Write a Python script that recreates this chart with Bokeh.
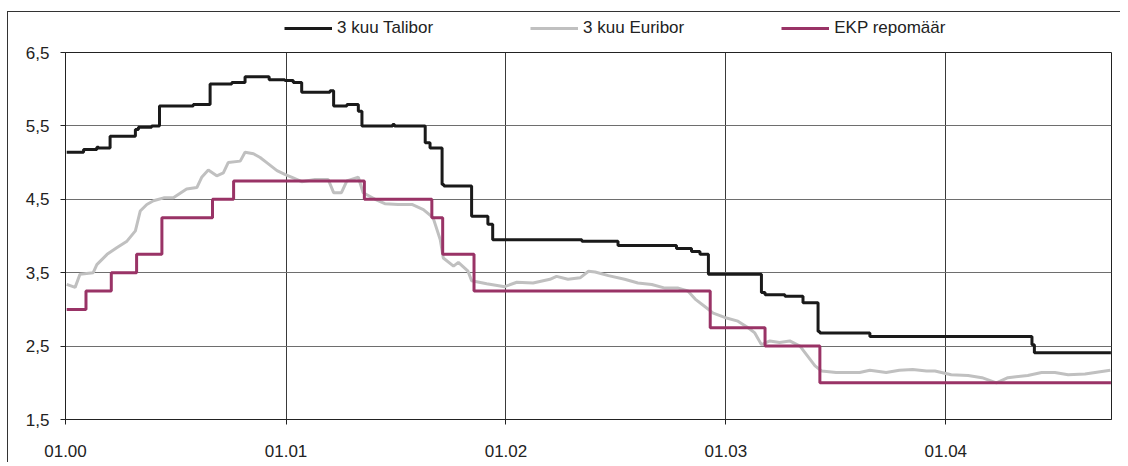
import pandas as pd
from bokeh.plotting import figure
from bokeh.layouts import column
from bokeh.models import Range1d, FixedTicker, Legend, LegendItem
from bokeh.embed import file_html
from bokeh.resources import INLINE

# ---------------- data ----------------
series_names = ["3 kuu Talibor", "3 kuu Euribor", "EKP repomäär"]
series_colors = ["#1a1a1a", "#c0c0c0", "#993366"]

talibor_dates = ["2000-01-03", "2000-01-31", "2000-02-22", "2000-02-25", "2000-03-15", "2000-04-26",
                 "2000-05-01", "2000-05-23", "2000-06-05", "2000-07-31", "2000-08-28", "2000-10-03",
                 "2000-10-25", "2000-12-04", "2000-12-30", "2001-01-13", "2001-01-27", "2001-03-15",
                 "2001-03-21", "2001-04-12", "2001-05-01", "2001-05-07", "2001-06-27", "2001-06-30",
                 "2001-08-20", "2001-08-28", "2001-09-17", "2001-09-20", "2001-11-05", "2001-12-02",
                 "2001-12-10", "2002-05-07", "2002-07-06", "2002-10-11", "2002-11-05", "2002-11-19",
                 "2002-12-03", "2003-03-01", "2003-03-07", "2003-04-09", "2003-05-09", "2003-06-03",
                 "2003-06-06", "2003-08-28", "2004-05-23", "2004-05-27", "2004-10-01"]
talibor_values = [5.14, 5.18, 5.21, 5.20, 5.36, 5.45, 5.48, 5.50, 5.77, 5.79, 6.07, 6.09,
                  6.17, 6.13, 6.12, 6.09, 5.96, 5.98, 5.77, 5.79, 5.70, 5.50, 5.52, 5.50,
                  5.27, 5.20, 4.70, 4.68, 4.27, 4.16, 3.95, 3.93, 3.87, 3.83, 3.79, 3.75,
                  3.48, 3.23, 3.20, 3.18, 3.09, 2.70, 2.68, 2.63, 2.52, 2.41, 2.41]

euribor_dates = ["2000-01-03", "2000-01-17", "2000-01-25", "2000-02-16", "2000-02-22", "2000-03-10",
                 "2000-03-26", "2000-04-12", "2000-04-26", "2000-05-04", "2000-05-15", "2000-05-26",
                 "2000-06-12", "2000-06-28", "2000-07-20", "2000-08-06", "2000-08-14", "2000-08-25",
                 "2000-09-08", "2000-09-19", "2000-09-27", "2000-10-17", "2000-10-25", "2000-11-08",
                 "2000-11-19", "2000-11-30", "2000-12-17", "2000-12-30", "2001-01-11", "2001-01-27",
                 "2001-02-18", "2001-03-12", "2001-03-21", "2001-04-03", "2001-04-12", "2001-05-01",
                 "2001-05-09", "2001-05-29", "2001-06-14", "2001-07-06", "2001-07-29", "2001-08-17",
                 "2001-09-02", "2001-09-14", "2001-09-19", "2001-10-06", "2001-10-14", "2001-10-30",
                 "2001-11-05", "2001-11-30", "2001-12-30", "2002-01-19", "2002-02-15", "2002-03-15",
                 "2002-03-26", "2002-04-14", "2002-05-04", "2002-05-18", "2002-05-29", "2002-06-20",
                 "2002-07-17", "2002-08-08", "2002-08-31", "2002-09-22", "2002-10-14", "2002-10-30",
                 "2002-11-11", "2002-11-27", "2002-12-11", "2002-12-30", "2003-01-21", "2003-02-07",
                 "2003-02-18", "2003-03-01", "2003-03-15", "2003-03-31", "2003-04-17", "2003-05-04",
                 "2003-05-17", "2003-05-29", "2003-06-09", "2003-07-03", "2003-08-11", "2003-08-28",
                 "2003-09-24", "2003-10-16", "2003-11-07", "2003-11-30", "2003-12-14", "2004-01-10",
                 "2004-02-07", "2004-03-01", "2004-03-25", "2004-04-13", "2004-05-16", "2004-06-08",
                 "2004-06-30", "2004-07-22", "2004-08-19", "2004-09-30"]
euribor_values = [3.34, 3.30, 3.48, 3.50, 3.61, 3.75, 3.84, 3.93, 4.07, 4.34, 4.43, 4.48,
                  4.52, 4.52, 4.64, 4.66, 4.80, 4.90, 4.82, 4.86, 5.00, 5.02, 5.14, 5.12,
                  5.07, 5.00, 4.89, 4.84, 4.80, 4.74, 4.77, 4.77, 4.59, 4.59, 4.75, 4.80,
                  4.59, 4.50, 4.44, 4.43, 4.43, 4.36, 4.25, 3.95, 3.70, 3.59, 3.64, 3.52,
                  3.39, 3.35, 3.31, 3.37, 3.36, 3.41, 3.45, 3.41, 3.43, 3.52, 3.51, 3.46,
                  3.41, 3.36, 3.34, 3.29, 3.29, 3.25, 3.14, 3.04, 2.95, 2.89, 2.84, 2.75,
                  2.68, 2.52, 2.57, 2.55, 2.57, 2.50, 2.36, 2.23, 2.16, 2.14, 2.14, 2.17,
                  2.14, 2.17, 2.18, 2.16, 2.16, 2.11, 2.10, 2.07, 2.00, 2.07, 2.10, 2.14,
                  2.14, 2.11, 2.12, 2.17]

repo_dates = ["2000-01-03", "2000-02-04", "2000-03-17", "2000-04-28", "2000-06-09", "2000-09-01",
              "2000-10-06", "2001-05-11", "2001-08-31", "2001-09-18", "2001-11-09", "2002-12-06",
              "2003-03-07", "2003-06-06", "2004-10-01"]
repo_values = [3.00, 3.25, 3.50, 3.75, 4.25, 4.50, 4.75, 4.50, 4.25, 3.75, 3.25, 2.75,
               2.50, 2.00, 2.00]

x_tick_dates = ["2000-01-01", "2001-01-01", "2002-01-01", "2003-01-01", "2004-01-01"]
x_tick_labels = ["01.00", "01.01", "01.02", "01.03", "01.04"]
y_ticks = [1.5, 2.5, 3.5, 4.5, 5.5, 6.5]
y_tick_labels = ["1,5", "2,5", "3,5", "4,5", "5,5", "6,5"]

series = [(pd.to_datetime(talibor_dates), talibor_values, "step"),
          (pd.to_datetime(euribor_dates), euribor_values, "line"),
          (pd.to_datetime(repo_dates), repo_values, "step")]

# ---------------- styling constants ----------------
FONT = "Liberation Sans"
FS = "17px"
W = 1112
X_START, X_END = pd.Timestamp("2000-01-01"), pd.Timestamp("2004-10-02")

# ---------------- legend strip (same series, drawn outside its view) ----------------
leg = figure(width=W, height=31, x_axis_type="datetime",
             x_range=Range1d(X_START, X_END), y_range=Range1d(10, 11),
             x_axis_location=None, y_axis_location=None,
             output_backend="svg", toolbar_location=None,
             min_border_left=0, min_border_right=0, min_border_top=0, min_border_bottom=0)
leg.grid.visible = False
leg.outline_line_color = None
leg.background_fill_color = "white"
leg.border_fill_color = "white"
leg_items = []
for name, col, (xs, ys, _) in zip(series_names, series_colors, series):
    r = leg.line(x=xs, y=ys, line_color=col, line_width=3)
    leg_items.append(LegendItem(label=name, renderers=[r]))
legend = Legend(items=leg_items, orientation="horizontal", location=(219, 5),
                spacing=97, padding=0, margin=0, glyph_width=48, glyph_height=20,
                label_standoff=5, border_line_color=None, background_fill_alpha=0,
                label_text_font=FONT, label_text_font_size=FS, label_text_color="#222")
leg.add_layout(legend)

# ---------------- main chart ----------------
p = figure(width=W, height=419, x_axis_type="datetime",
           x_range=Range1d(X_START, X_END), y_range=Range1d(1.5, 6.5),
           output_backend="svg", toolbar_location=None,
           min_border_left=57, min_border_right=9, min_border_top=9, min_border_bottom=43)
p.background_fill_color = "white"
p.border_fill_color = "white"
p.outline_line_color = "#222"
p.outline_line_width = 1

xt_ms = [pd.Timestamp(d).value // 10**6 for d in x_tick_dates]
xticker = FixedTicker(ticks=xt_ms)
yticker = FixedTicker(ticks=y_ticks)
p.xaxis.ticker = xticker
p.yaxis.ticker = yticker
p.xgrid.ticker = xticker
p.ygrid.ticker = yticker
p.xaxis.major_label_overrides = {t: lab for t, lab in zip(xt_ms, x_tick_labels)}
p.yaxis.major_label_overrides = {t: lab for t, lab in zip(y_ticks, y_tick_labels)}

for ax in (p.xaxis, p.yaxis):
    ax.axis_line_color = "#222"
    ax.axis_line_width = 1
    ax.major_tick_line_color = "#222"
    ax.major_tick_in = 0
    ax.major_tick_out = 5
    ax.minor_tick_line_color = None
    ax.major_label_text_font = FONT
    ax.major_label_text_font_size = FS
    ax.major_label_text_color = "#222"
p.xaxis.major_label_standoff = 20
p.yaxis.major_label_standoff = 11

p.xgrid.grid_line_color = "#3a3a3a"
p.xgrid.grid_line_width = 1
p.ygrid.grid_line_color = "#6e6e6e"
p.ygrid.grid_line_width = 1

for col, (xs, ys, kind) in zip(series_colors, series):
    if kind == "step":
        p.step(xs, ys, mode="after", line_color=col, line_width=3)
    else:
        p.line(xs, ys, line_color=col, line_width=3)

layout = column(leg, p, spacing=0)
layout.styles = {"margin-top": "11px", "margin-left": "7px",
                 "border-left": "1px solid #333", "border-top": "1px solid #333"}

open("out.html", "w").write(file_html(layout, INLINE))
